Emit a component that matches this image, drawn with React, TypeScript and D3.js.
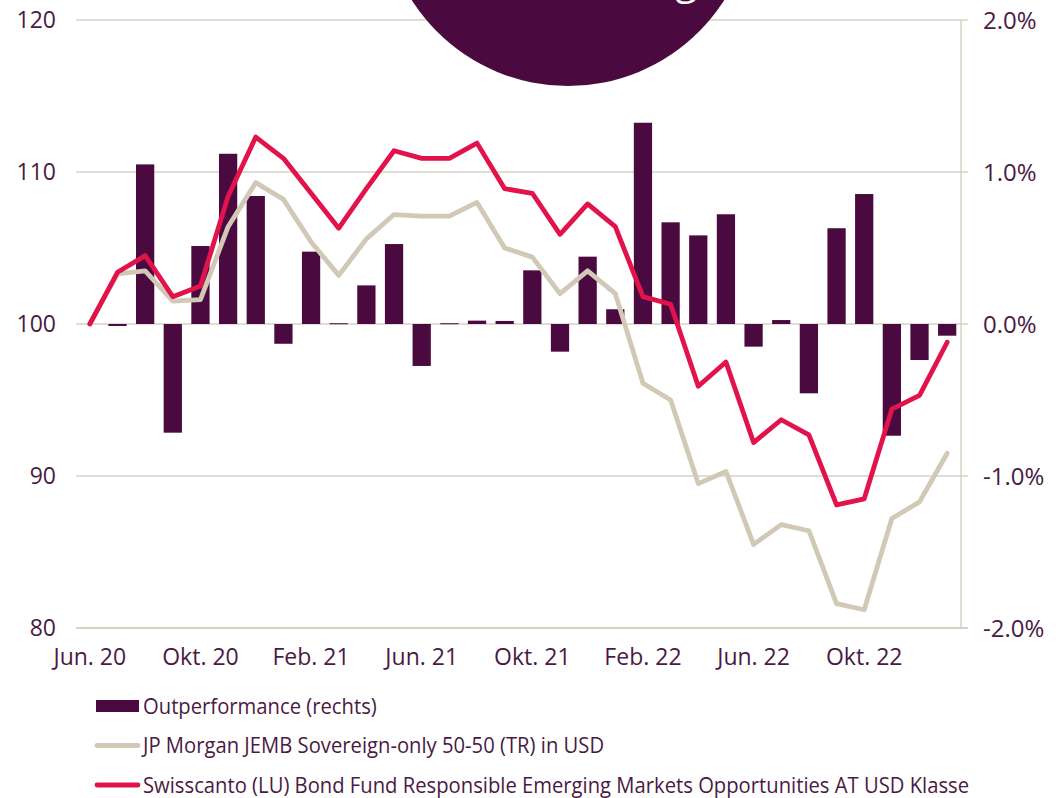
import React from 'react';
import * as d3 from 'd3';

// monthly observations, Jun 2020 .. Jan 2023
const months = [
  'Jun. 20', 'Jul. 20', 'Aug. 20', 'Sep. 20', 'Okt. 20', 'Nov. 20', 'Dez. 20',
  'Jan. 21', 'Feb. 21', 'Mrz. 21', 'Apr. 21', 'Mai. 21', 'Jun. 21', 'Jul. 21',
  'Aug. 21', 'Sep. 21', 'Okt. 21', 'Nov. 21', 'Dez. 21', 'Jan. 22', 'Feb. 22',
  'Mrz. 22', 'Apr. 22', 'Mai. 22', 'Jun. 22', 'Jul. 22', 'Aug. 22', 'Sep. 22',
  'Okt. 22', 'Nov. 22', 'Dez. 22', 'Jan. 23',
];
const tickLabels = ['Jun. 20', 'Okt. 20', 'Feb. 21', 'Jun. 21', 'Okt. 21', 'Feb. 22', 'Jun. 22', 'Okt. 22'];

const fund = [
  100, 103.4, 104.5, 101.8, 102.5, 108.4, 112.3, 110.9, 108.6, 106.3, 108.9,
  111.4, 110.9, 110.9, 111.9, 108.9, 108.6, 105.9, 107.9, 106.4, 101.8, 101.3,
  95.9, 97.5, 92.2, 93.7, 92.7, 88.1, 88.5, 94.4, 95.3, 98.8,
];
const bench = [
  100, 103.3, 103.5, 101.5, 101.6, 106.4, 109.3, 108.2, 105.4, 103.2, 105.6,
  107.2, 107.1, 107.1, 108.0, 105.0, 104.4, 102.0, 103.5, 102.0, 96.1, 95.0,
  89.5, 90.3, 85.5, 86.8, 86.4, 81.6, 81.2, 87.2, 88.3, 91.5,
];
// outperformance in %, none for the start month
const outperf: (number | null)[] = [
  null, -0.013, 1.05, -0.715, 0.513, 1.12, 0.842, -0.13, 0.476, 0.005, 0.254,
  0.526, -0.276, 0.005, 0.022, 0.02, 0.353, -0.182, 0.443, 0.097, 1.324, 0.669,
  0.583, 0.722, -0.149, 0.026, -0.456, 0.63, 0.855, -0.735, -0.237, -0.077,
];
const leftTicks = [80, 90, 100, 110, 120];
const rightTicks = [-2, -1, 0, 1, 2];

const legendItems = [
  { label: 'Outperformance (rechts)', kind: 'bar' },
  { label: 'JP Morgan JEMB Sovereign-only 50-50 (TR) in USD', kind: 'bench' },
  { label: 'Swisscanto (LU) Bond Fund Responsible Emerging Markets Opportunities AT USD Klasse', kind: 'fund' },
];

const PURPLE = '#4a0a40';
const RED = '#e2134b';
const BEIGE = '#d1c9b5';
const GRID = '#d9d2c3';
const TEXT = '#4a1a44';
const FONT = '"Open Sans", sans-serif';

export default function App() {
  const W = 1063;
  const H = 798;
  const M = { top: 20, left: 76, right: 102, bottom: 170 };
  const x0 = M.left;
  const x1 = W - M.right;
  const yTop = M.top;
  const yBot = H - M.bottom;

  const x = d3.scaleBand<number>()
    .domain(months.map((_, i) => i))
    .range([x0, x1])
    .paddingInner(0.34)
    .paddingOuter(0.17);
  const cx = (i: number) => (x(i) ?? 0) + x.bandwidth() / 2;
  const yL = d3.scaleLinear().domain([80, 120]).range([yBot, yTop]);
  const yR = d3.scaleLinear().domain([-2, 2]).range([yBot, yTop]);

  const line = d3.line<number>().x((_, i) => cx(i)).y(d => yL(d));

  return (
    <div style={{ position: 'absolute', left: 0, top: 0 }}>
      <svg width={W} height={H} style={{ display: 'block', fontFamily: FONT }}>
        {/* grid */}
        {leftTicks.map(t => (
          <line key={t} x1={x0} x2={x1 + 7} y1={yL(t)} y2={yL(t)}
            stroke={GRID} strokeWidth={t === 80 ? 2 : 1.5} />
        ))}
        <line x1={x1} x2={x1} y1={yTop} y2={yBot} stroke={GRID} strokeWidth={1.5} />

        {/* header circle, cut by the top edge */}
        <circle cx={568} cy={-99} r={185} fill={PURPLE} />
        <text x={686} y={-6} fill="#fff" fontSize={40} textAnchor="middle">g</text>

        {/* bars */}
        {outperf.map((v, i) => v == null ? null : (
          <rect key={i} x={x(i)} width={x.bandwidth()}
            y={Math.min(yR(v), yR(0))} height={Math.max(1, Math.abs(yR(v) - yR(0)))}
            fill={PURPLE} />
        ))}

        {/* lines */}
        <path d={line(bench) ?? ''} fill="none" stroke={BEIGE} strokeWidth={4.8} strokeLinejoin="round" strokeLinecap="round" />
        <path d={line(fund) ?? ''} fill="none" stroke={RED} strokeWidth={4.8} strokeLinejoin="round" strokeLinecap="round" />

        {/* left axis labels */}
        {leftTicks.map(t => (
          <text key={t} x={56} y={yL(t)} dy="0.36em" textAnchor="end" fontSize={23} fill={TEXT}>{t}</text>
        ))}
        {/* right axis labels */}
        {rightTicks.map(t => (
          <text key={t} x={x1 + 22} y={yR(t)} dy="0.36em" textAnchor="start" fontSize={24} fill={TEXT}>
            {`${t.toFixed(1)}%`}
          </text>
        ))}
        {/* x axis labels */}
        {tickLabels.map(lab => {
          const i = months.indexOf(lab);
          return (
            <text key={lab} x={cx(i)} y={yBot + 37} textAnchor="middle" fontSize={23} fill={TEXT}>{lab}</text>
          );
        })}

        {/* legend */}
        {legendItems.map((it, k) => {
          const cy = 706 + k * 39.5;
          return (
            <g key={it.label}>
              {it.kind === 'bar'
                ? <rect x={96} y={cy - 6} width={43} height={12} fill={PURPLE} />
                : <line x1={97} x2={138} y1={cy} y2={cy} stroke={it.kind === 'fund' ? RED : BEIGE}
                    strokeWidth={4.8} strokeLinecap="round" />}
              <text transform={`translate(143,${cy}) scale(0.92,1)`} dy="0.36em" fontSize={22} fill={TEXT}>{it.label}</text>
            </g>
          );
        })}
      </svg>
    </div>
  );
}
